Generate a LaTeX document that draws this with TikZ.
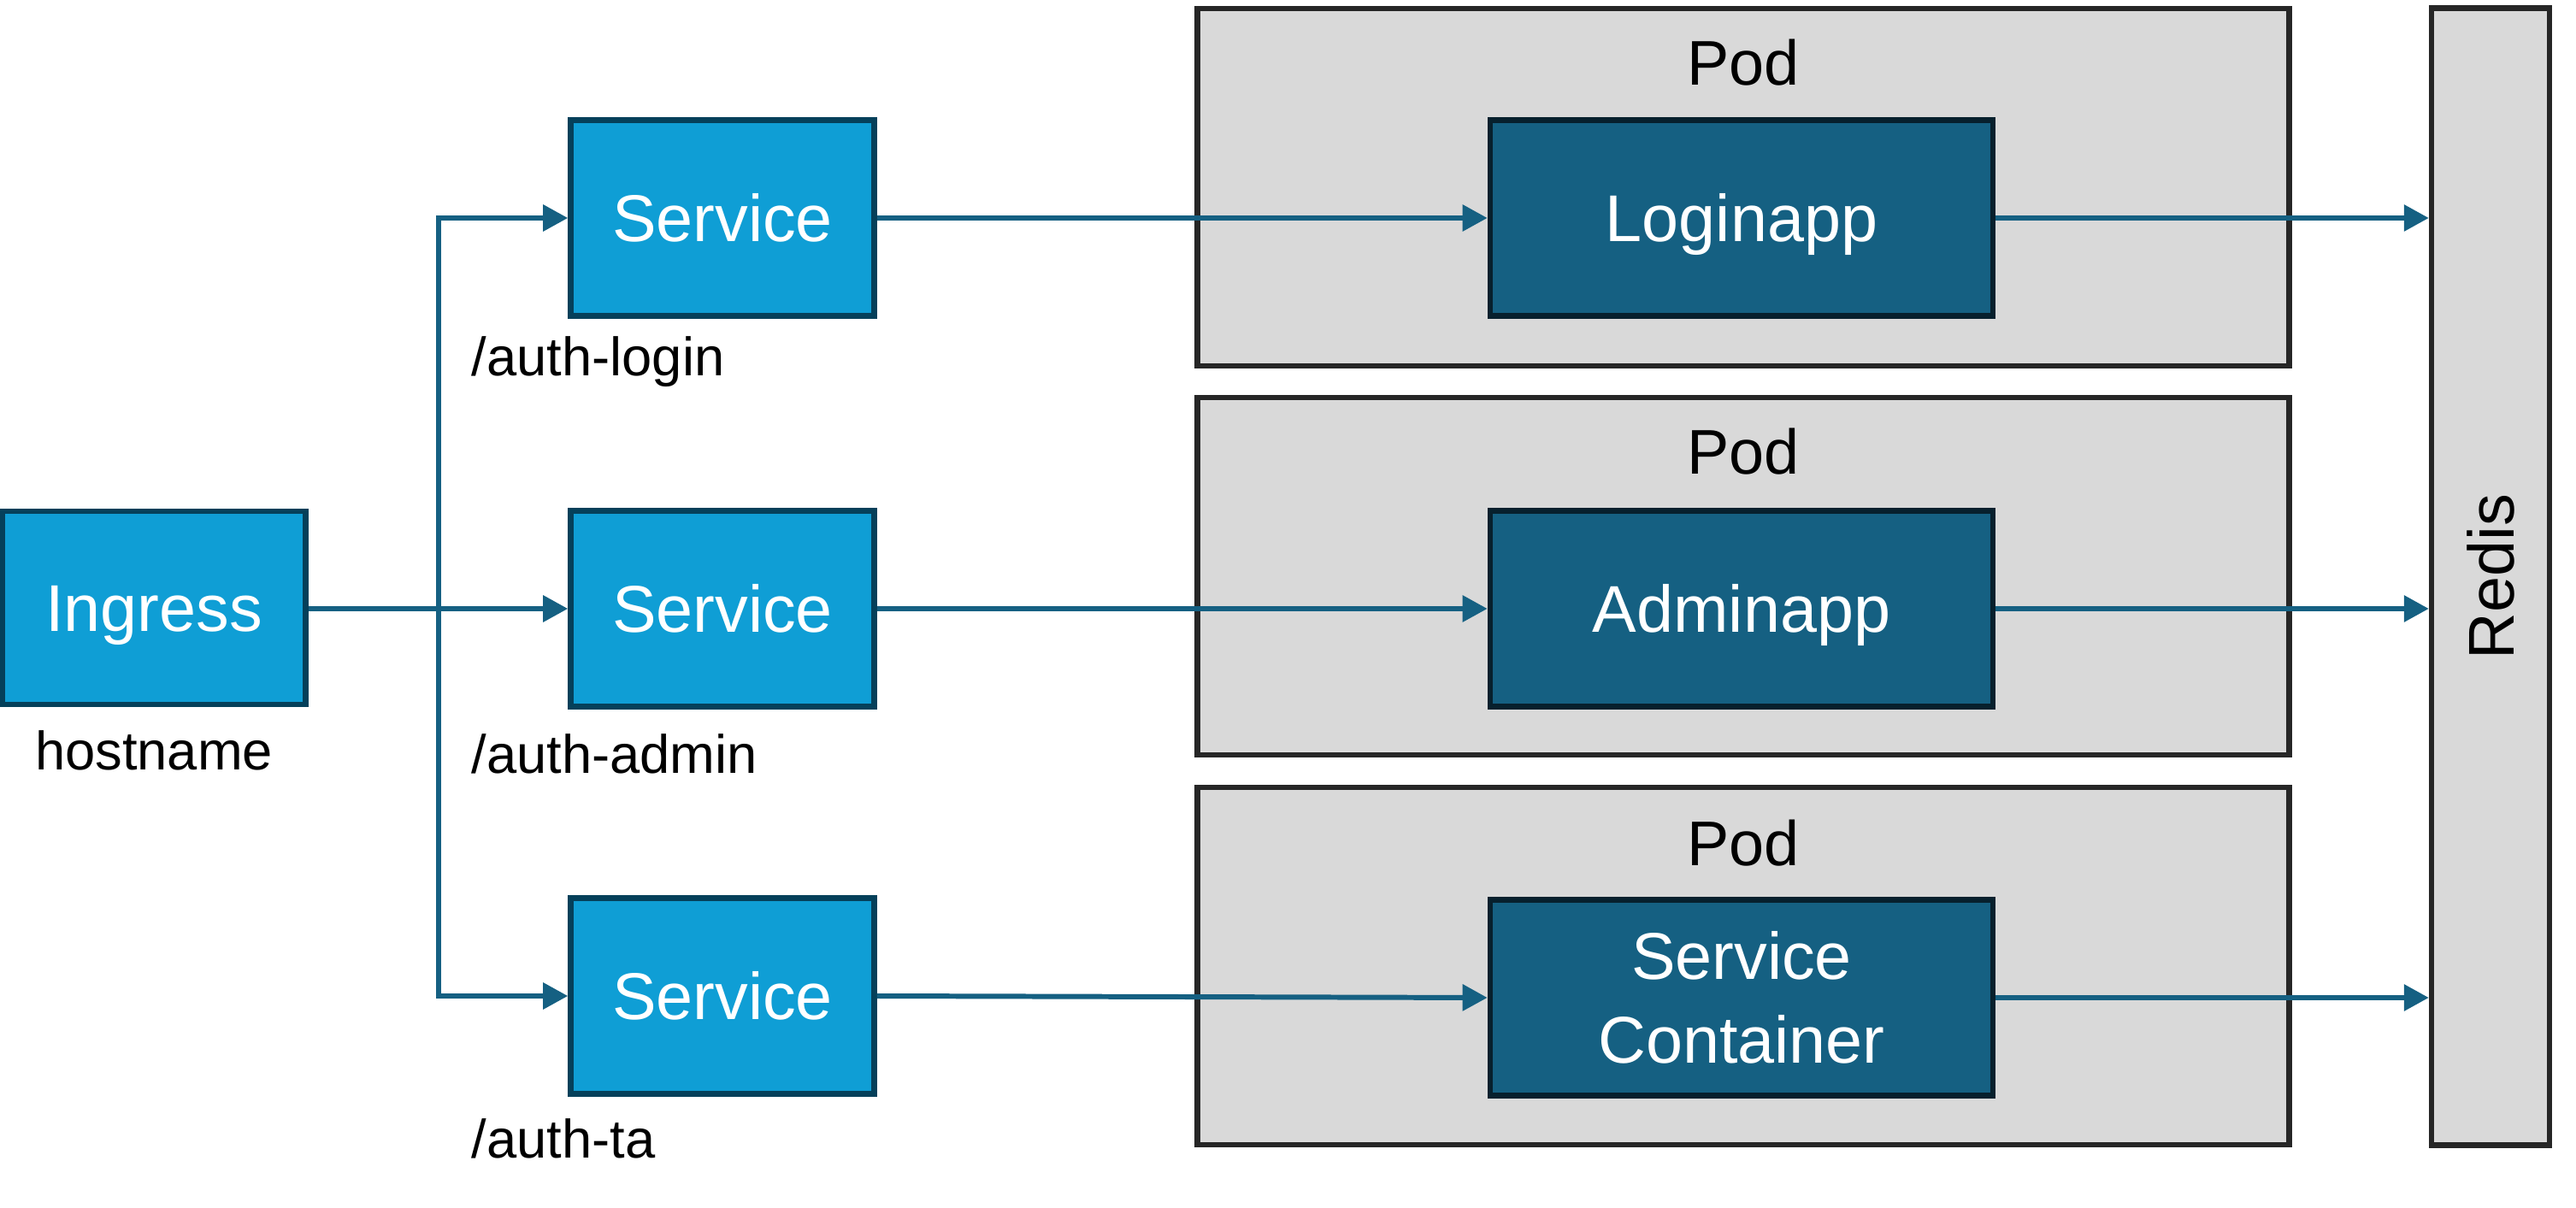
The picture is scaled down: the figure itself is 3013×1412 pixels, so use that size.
\documentclass[tikz,border=0pt]{standalone}
\usepackage{fontspec}
\setmainfont{Liberation Sans}
\usetikzlibrary{arrows.meta}
\definecolor{lightblue}{HTML}{0F9ED5}
\definecolor{lbborder}{HTML}{05405A}
\definecolor{darkblue}{HTML}{156082}
\definecolor{dbborder}{HTML}{07202D}
\definecolor{podfill}{HTML}{D9D9D9}
\definecolor{podborder}{HTML}{262626}
\definecolor{arrowc}{HTML}{156082}
\tikzset{
  svcbox/.style={draw=lbborder, fill=lightblue, line width=1.8pt, minimum width=3.55cm, minimum height=2.29cm, text=white, font=\fontsize{22}{28}\selectfont, inner sep=0pt, align=center},
  appbox/.style={draw=dbborder, fill=darkblue, line width=1.8pt, minimum width=5.88cm, minimum height=2.29cm, text=white, font=\fontsize{22}{28}\selectfont, inner sep=0pt, align=center},
  oneline/.style={text height=15.8pt, text depth=0pt},
  podbox/.style={draw=podborder, fill=podfill, line width=1.8pt, minimum width=12.76cm, minimum height=4.18cm, inner sep=0pt},
  redisbox/.style={draw=podborder, fill=podfill, line width=1.8pt, minimum width=1.38cm, minimum height=13.29cm, inner sep=0pt, font=\fontsize{21.5}{26}\selectfont},
  conn/.style={draw=arrowc, line width=1.7pt, -{Triangle[length=0.29cm,width=0.3cm]}},
  lbl/.style={font=\fontsize{18}{22}\selectfont, text=black, inner sep=0pt},
  podlbl/.style={font=\fontsize{21}{26}\selectfont, text=black, inner sep=0pt}
}
\begin{document}
\begin{tikzpicture}[x=0.01cm,y=0.01cm]
\useasboundingbox (0,0) rectangle (3013,1412);
\fill[white] (0,0) rectangle (3013,1412);

% pods and redis
\node[podbox] (pod1) at (2039,1193) {};
\node[podbox] (pod2) at (2039,738) {};
\node[podbox] (pod3) at (2039,282) {};
\node[redisbox] (redis) at (2913,737.5) {\rotatebox{90}{Redis}};
\node[podlbl] (podl1) at (2039,1339) {Pod};
\node[podlbl] (podl2) at (2039,884) {Pod};
\node[podlbl] (podl3) at (2039,426) {Pod};

% ingress and services
\node[svcbox, oneline, minimum height=2.26cm] (ingress) at (180,701) {Ingress};
\node[svcbox, oneline] (stop) at (845,1157) {Service};
\node[svcbox, oneline] (smid) at (845,700) {Service};
\node[svcbox, oneline] (sbot) at (845,247) {Service};

% apps
\node[appbox, oneline] (itop) at (2037,1157) {Loginapp};
\node[appbox, oneline] (imid) at (2037,700) {Adminapp};
\node[appbox] (ibot) at (2037,245) {Service\\Container};

% labels
\node[lbl] (lhost) at (180,534) {hostname};
\node[lbl, anchor=west] (llogin) at (551,989) {/auth-login};
\node[lbl, anchor=west] (ladmin) at (551,530) {/auth-admin};
\node[lbl, anchor=west] (lta) at (551,80) {/auth-ta};

% connectors
\coordinate (split) at (513,700);
\draw[conn] (ingress.east |- smid.west) -- (smid.west);
\draw[conn] (split) |- (stop.west);
\draw[conn] (split) |- (sbot.west);

\draw[conn] (stop.east) -- (itop.west);
\draw[conn] (smid.east) -- (imid.west);
\draw[conn] (sbot.east) -- (ibot.west);

\draw[conn] (itop.east) -- (itop.east -| redis.west);
\draw[conn] (imid.east) -- (imid.east -| redis.west);
\draw[conn] (ibot.east) -- (ibot.east -| redis.west);
\end{tikzpicture}
\end{document}
